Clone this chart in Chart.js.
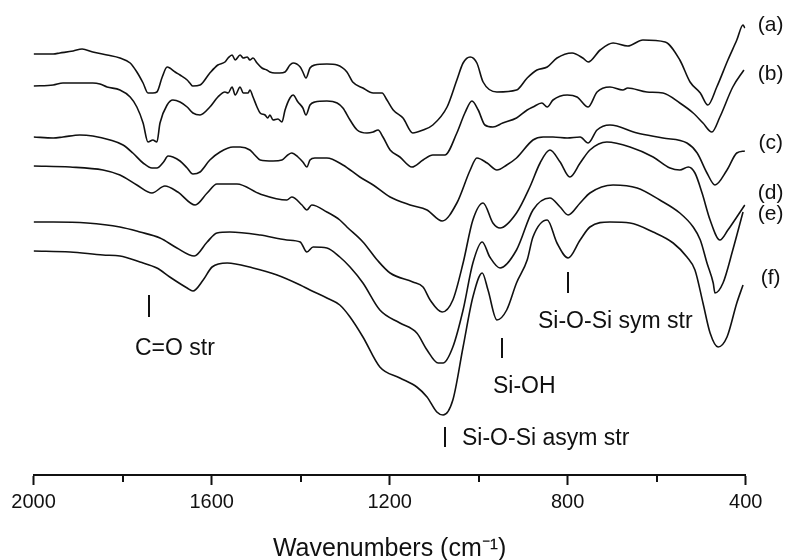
<!DOCTYPE html>
<html>
<head>
<meta charset="utf-8">
<script src="https://cdn.jsdelivr.net/npm/chart.js@4.4.1/dist/chart.umd.min.js"></script>
<style>
  html, body { margin: 0; padding: 0; background: #fff; }
  #wrap { width: 785px; height: 560px; }
</style>
</head>
<body>
<div id="wrap"><canvas id="ftir" width="785" height="560"></canvas></div>
<script>
"use strict";

// FTIR spectra, [wavenumber (cm-1), transmittance offset (a.u.)]
const specA = [
  [2000, 421], [1956, 421], [1941, 422], [1911, 424], [1891, 426], [1867, 423], [1835, 420],
  [1806, 417], [1783, 412], [1768, 403], [1754, 392], [1743, 382], [1732, 382], [1723, 383],
  [1711, 398], [1700, 408], [1694, 407], [1682, 403], [1671, 400], [1655, 395], [1649, 392],
  [1642, 389], [1626, 390], [1604, 402], [1586, 410], [1570, 413], [1563, 417], [1554, 420],
  [1547, 415], [1536, 420], [1529, 417], [1520, 418], [1514, 415], [1507, 417], [1498, 412],
  [1487, 407], [1476, 405], [1469, 403], [1458, 402], [1447, 402], [1435, 403], [1424, 410],
  [1417, 412], [1401, 408], [1395, 403], [1388, 397], [1379, 407], [1368, 410], [1341, 411],
  [1318, 410], [1296, 403], [1283, 393], [1260, 387], [1237, 382], [1217, 382], [1206, 375],
  [1192, 365], [1170, 357], [1148, 342], [1125, 345], [1103, 350], [1071, 368], [1049, 395],
  [1035, 412], [1019, 418], [1004, 412], [990, 393], [959, 383], [915, 385], [891, 397],
  [869, 405], [846, 408], [824, 417], [790, 422], [766, 417], [754, 413], [727, 425],
  [698, 432], [665, 429], [631, 435], [581, 433], [548, 415], [525, 393], [502, 382],
  [485, 370], [465, 388], [440, 415], [420, 435], [406, 450], [402, 447]
];
const specB = [
  [2000, 389], [1956, 390], [1934, 392], [1889, 392], [1867, 392], [1851, 391], [1835, 388],
  [1806, 385], [1783, 378], [1768, 368], [1754, 352], [1743, 333], [1732, 335], [1723, 333],
  [1716, 352], [1700, 370], [1687, 375], [1671, 373], [1655, 368], [1642, 362], [1626, 360],
  [1604, 368], [1586, 378], [1570, 383], [1563, 382], [1554, 388], [1547, 380], [1536, 388],
  [1529, 382], [1518, 382], [1514, 385], [1507, 378], [1498, 368], [1491, 362], [1480, 360],
  [1474, 357], [1469, 360], [1462, 355], [1451, 356], [1442, 353], [1435, 365], [1424, 377],
  [1417, 380], [1406, 373], [1395, 367], [1388, 360], [1379, 370], [1368, 373], [1341, 374],
  [1318, 372], [1305, 367], [1289, 355], [1273, 345], [1251, 342], [1237, 343], [1226, 345],
  [1215, 338], [1199, 325], [1177, 318], [1150, 308], [1125, 315], [1103, 320], [1076, 320],
  [1049, 342], [1031, 362], [1015, 374], [1001, 365], [986, 350], [968, 348], [946, 352],
  [915, 357], [891, 365], [878, 368], [858, 372], [846, 368], [833, 375], [801, 380],
  [779, 378], [754, 368], [734, 383], [705, 388], [676, 385], [665, 387], [622, 383],
  [586, 382], [548, 372], [518, 362], [496, 352], [476, 343], [458, 358], [429, 388],
  [404, 405]
];
const specC = [
  [2000, 338], [1956, 337], [1934, 338], [1896, 340], [1867, 339], [1828, 335], [1799, 330],
  [1777, 322], [1754, 312], [1734, 307], [1723, 307], [1708, 313], [1698, 319], [1687, 318],
  [1671, 314], [1655, 307], [1642, 301], [1626, 303], [1604, 315], [1581, 323], [1552, 328],
  [1536, 328], [1514, 325], [1503, 320], [1491, 315], [1462, 314], [1442, 315], [1429, 320],
  [1420, 322], [1406, 318], [1395, 313], [1386, 308], [1379, 315], [1368, 317], [1341, 317],
  [1305, 310], [1267, 298], [1237, 290], [1199, 278], [1154, 270], [1116, 265], [1082, 254],
  [1049, 272], [1019, 305], [1004, 317], [981, 312], [959, 305], [937, 310], [915, 317],
  [878, 335], [855, 338], [833, 338], [801, 337], [772, 338], [754, 332], [734, 345],
  [705, 350], [644, 342], [586, 337], [532, 332], [509, 322], [487, 302], [469, 290],
  [442, 305], [420, 322], [402, 324]
];
const specD = [
  [2000, 309], [1918, 308], [1844, 305], [1806, 300], [1768, 290], [1734, 282], [1705, 289],
  [1676, 283], [1637, 270], [1610, 282], [1588, 291], [1543, 291], [1491, 281], [1431, 275],
  [1420, 278], [1397, 270], [1386, 265], [1375, 270], [1341, 263], [1312, 255], [1296, 248],
  [1260, 233], [1228, 215], [1199, 202], [1148, 193], [1125, 188], [1109, 175], [1082, 163],
  [1058, 175], [1035, 212], [1013, 255], [990, 272], [968, 252], [952, 247], [915, 262],
  [885, 288], [862, 312], [840, 325], [817, 313], [795, 298], [772, 312], [750, 325],
  [712, 333], [660, 328], [608, 318], [570, 307], [548, 305], [529, 308], [514, 302],
  [498, 282], [480, 255], [458, 235], [440, 245], [420, 258], [402, 270]
];
const specE = [
  [2000, 253], [1956, 253], [1880, 252], [1806, 248], [1761, 243], [1716, 237], [1678, 227],
  [1639, 219], [1610, 233], [1588, 242], [1559, 243], [1491, 240], [1431, 235], [1401, 233],
  [1386, 223], [1372, 228], [1341, 227], [1312, 218], [1289, 208], [1260, 192], [1222, 165],
  [1177, 152], [1139, 142], [1116, 125], [1091, 112], [1080, 112], [1058, 128], [1035, 165],
  [1013, 212], [992, 233], [975, 218], [952, 207], [915, 225], [878, 265], [840, 277],
  [817, 268], [799, 260], [772, 272], [750, 282], [698, 290], [644, 287], [593, 275],
  [548, 262], [518, 248], [502, 235], [487, 212], [473, 192], [469, 182], [451, 192],
  [429, 225], [406, 263]
];
const specF = [
  [2000, 224], [1918, 223], [1844, 220], [1806, 219], [1761, 213], [1723, 207], [1694, 198],
  [1655, 187], [1642, 184], [1619, 195], [1599, 208], [1565, 212], [1507, 207], [1453, 200],
  [1401, 190], [1379, 185], [1341, 177], [1312, 170], [1289, 158], [1260, 138], [1222, 108],
  [1177, 97], [1139, 88], [1116, 78], [1094, 63], [1080, 60], [1058, 75], [1035, 128],
  [1013, 178], [992, 202], [979, 185], [959, 155], [937, 165], [915, 192], [891, 215],
  [878, 238], [846, 255], [824, 232], [799, 217], [772, 235], [750, 248], [705, 253],
  [660, 252], [608, 243], [563, 232], [532, 218], [514, 205], [496, 172], [480, 142],
  [462, 128], [442, 138], [420, 172], [406, 190]
];

const sampleTags = ["(a)", "(b)", "(c)", "(d)", "(e)", "(f)"];
const bandNames = ["C=O str", "Si-OH", "Si-O-Si sym str", "Si-O-Si asym str"];
const bandWavenumbers = [1740, 948, 799, 1076];
const minorTicks = [1800, 1400, 1000, 600];

const FONT = '"Liberation Sans", Arial, Helvetica, sans-serif';
const INK = "#111";

// where the band markers and tags sit (y in a.u., dx in px)
const markerLayout = [
  { tick: [180, 158], dx: -14, base: 120 },
  { tick: [137, 117], dx: -9, base: 82 },
  { tick: [203, 182], dx: -30, base: 147 },
  { tick: [48, 28], dx: 17, base: 30 }
];
const tagLayout = [450, 401, 332, 282, 261, 197];

const overlay = {
  id: "overlay",
  afterDraw(chart) {
    const { ctx, chartArea } = chart;
    const x = chart.scales.x;
    const y = chart.scales.y;
    ctx.save();
    ctx.strokeStyle = INK;
    ctx.fillStyle = INK;
    ctx.lineWidth = 2;

    // short minor ticks between the labelled ones
    minorTicks.forEach((v) => {
      const px = Math.round(x.getPixelForValue(v));
      ctx.beginPath();
      ctx.moveTo(px, chartArea.bottom);
      ctx.lineTo(px, chartArea.bottom + 7);
      ctx.stroke();
    });

    ctx.font = "23px " + FONT;
    ctx.textAlign = "left";
    ctx.textBaseline = "alphabetic";
    bandNames.forEach((name, i) => {
      const px = Math.round(x.getPixelForValue(bandWavenumbers[i]));
      const m = markerLayout[i];
      ctx.beginPath();
      ctx.moveTo(px, y.getPixelForValue(m.tick[0]));
      ctx.lineTo(px, y.getPixelForValue(m.tick[1]));
      ctx.stroke();
      ctx.fillText(name, px + m.dx, y.getPixelForValue(m.base));
    });

    ctx.font = "21px " + FONT;
    ctx.textAlign = "center";
    ctx.textBaseline = "middle";
    sampleTags.forEach((t, i) => {
      ctx.fillText(t, chartArea.right + 25, y.getPixelForValue(tagLayout[i]));
    });
    ctx.restore();
  }
};

const spectra = [specA, specB, specC, specD, specE, specF];

const ctx = document.getElementById("ftir").getContext("2d");
const chart = new Chart(ctx, {
  type: "line",
  data: {
    datasets: spectra.map((s, i) => ({
      label: sampleTags[i],
      data: s.map((p) => ({ x: p[0], y: p[1] })),
      borderColor: INK,
      borderWidth: 1.6,
      pointRadius: 0,
      fill: false,
      cubicInterpolationMode: "monotone"
    }))
  },
  options: {
    responsive: false,
    animation: false,
    layout: { padding: { left: 33.6, right: 39.3, top: 10, bottom: 0 } },
    plugins: {
      legend: { display: false },
      tooltip: { enabled: false }
    },
    scales: {
      x: {
        type: "linear",
        reverse: true,
        min: 400,
        max: 2000,
        afterFit: (s) => { s.height = 85; },
        ticks: {
          stepSize: 400,
          color: INK,
          padding: 5,
          maxRotation: 0,
          font: { family: FONT, size: 20 },
          callback: (v) => String(v)
        },
        grid: {
          drawOnChartArea: false,
          drawTicks: true,
          tickLength: 10,
          tickWidth: 2,
          tickColor: INK
        },
        border: { display: true, color: INK, width: 2 },
        title: {
          display: true,
          text: "Wavenumbers (cm\u207B\u00B9)",
          color: INK,
          font: { family: FONT, size: 25 },
          padding: { top: 0, bottom: -4 }
        }
      },
      y: {
        display: false,
        min: 0,
        max: 465
      }
    }
  },
  plugins: [overlay]
});
</script>
</body>
</html>
